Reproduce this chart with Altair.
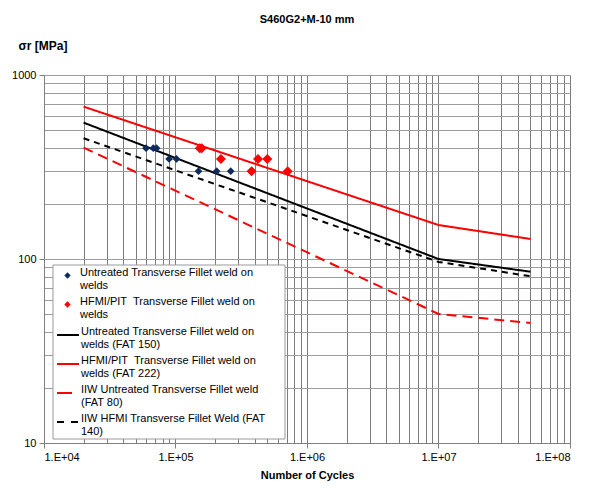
import altair as alt
import pandas as pd

# ---- data ----
untreated_N = [59700, 67800, 71800, 89400, 101800, 149600, 205600, 263000]
untreated_S = [400, 400, 400, 350, 350, 300, 300, 300]
hfmi_N = [152900, 158200, 221600, 379000, 424000, 499000, 713000]
hfmi_S = [400, 400, 350, 300, 350, 350, 300]

curve_N = [20000, 10000000, 50000000]
fat150 = [551, 100, 85.3]
fat222 = [673, 153, 128.5]
fat80 = [403, 50.3, 44.9]
fat140 = [453, 96.4, 80.6]

pt_names = [
    "Untreated Transverse Fillet weld on\nwelds",
    "HFMI/PIT\u00a0 Transverse Fillet weld on\nwelds",
]
ln_names = [
    "Untreated Transverse Fillet weld on\nwelds (FAT 150)",
    "HFMI/PIT\u00a0 Transverse Fillet weld on\nwelds (FAT 222)",
    "IIW Untreated Transverse Fillet weld\n(FAT 80)",
    "IIW HFMI Transverse Fillet Weld (FAT\n140)",
]
pt_colors = ["#0f2a5c", "#ff0000"]
pt_sizes = [60, 100]
ln_colors = ["#000000", "#ff0000", "#ff0000", "#000000"]
ln_dashes = [[1, 0], [1, 0], [10, 6], [6, 5]]
leg_dashes = [[1, 0], [1, 0], [15, 30], [7, 7]]

x_major = [10000, 100000, 1000000, 10000000, 100000000]
y_major = [10, 100, 1000]
x_grid = [m * d for d in x_major[:-1] for m in range(1, 10)] + [100000000]
y_grid = [m * d for d in y_major[:-1] for m in range(1, 10)] + [1000]

FONT = "Liberation Sans"
xmaj = "[" + ",".join(str(v) for v in x_major) + "]"
ymaj = "[" + ",".join(str(v) for v in y_major) + "]"

x_scale = alt.Scale(type="log", domain=[10000, 100000000], nice=False)
y_scale = alt.Scale(type="log", domain=[10, 1000], nice=False)

x_axis = alt.Axis(
    values=x_grid, grid=True, gridColor="#7c7c7c", gridWidth=1,
    labelExpr=f"indexof({xmaj}, datum.value) >= 0 ? '1.E+0' + round(log(datum.value)/LN10) : ''",
    tickOpacity={"condition": {"test": f"indexof({xmaj}, datum.value) >= 0", "value": 1}, "value": 0},
    tickColor="#808080", domainColor="#808080", tickSize=5,
    labelFont=FONT, labelFontSize=11, labelColor="#000", labelPadding=3,
    title="Number of Cycles", titleFont=FONT, titleFontSize=11, titleFontWeight="bold",
    titleColor="#000", titlePadding=7, labelOverlap=False,
)
y_axis = alt.Axis(
    values=y_grid, grid=True, gridColor="#9c9c9c", gridWidth=1,
    labelExpr=f"indexof({ymaj}, datum.value) >= 0 ? format(datum.value, 'd') : ''",
    tickOpacity={"condition": {"test": f"indexof({ymaj}, datum.value) >= 0", "value": 1}, "value": 0},
    tickColor="#808080", domainColor="#808080", tickSize=5,
    labelFont=FONT, labelFontSize=11, labelColor="#000", labelPadding=3,
    title="σr [MPa]", titleFont=FONT, titleFontSize=12, titleFontWeight="bold",
    titleColor="#000", titleAngle=0, titleAlign="left", titleBaseline="middle",
    titleX=-26, titleY=-30, labelOverlap=False,
)

box = alt.Chart(pd.DataFrame({"a": [0]})).mark_rect(
    fill="white", stroke="#9a9a9a", strokeWidth=1
).encode(
    x=alt.value(9), x2=alt.value(241), y=alt.value(190), y2=alt.value(364)
)

leg_common = dict(
    title=None, orient="none", labelFont=FONT, labelFontSize=11, labelColor="#000",
    labelExpr="split(datum.label, '\\n')", labelBaseline="alphabetic", labelLimit=400,
    rowPadding=0, padding=0,
)

lines = pd.DataFrame({
    "N": curve_N * 4,
    "S": [v for c in [fat150, fat222, fat80, fat140] for v in c],
    "series": [n for n in ln_names for _ in curve_N],
})
pts = pd.DataFrame({
    "N": untreated_N + hfmi_N,
    "S": untreated_S + hfmi_S,
    "series": [pt_names[0]] * len(untreated_N) + [pt_names[1]] * len(hfmi_N),
})

layers = [box]
line_legY = [248, 277, 306, 335]
for i, name in enumerate(ln_names):
    layers.append(
        alt.Chart(lines).transform_filter(alt.datum.series == name)
        .mark_line(strokeWidth=2, strokeDash=ln_dashes[i])
        .encode(
            x=alt.X("N:Q", scale=x_scale, axis=x_axis),
            y=alt.Y("S:Q", scale=y_scale, axis=y_axis),
            color=alt.Color("series:N", scale=alt.Scale(domain=[name], range=[ln_colors[i]]),
                            legend=alt.Legend(legendX=12, legendY=line_legY[i], symbolType="stroke",
                                              symbolSize=484, symbolStrokeWidth=2,
                                              symbolDash=leg_dashes[i], labelOffset=1, **leg_common)),
        )
    )

pt_legY = [195, 224]
for i, name in enumerate(pt_names):
    layers.append(
        alt.Chart(pts).transform_filter(alt.datum.series == name)
        .mark_point(shape="diamond", filled=True, opacity=1, size=pt_sizes[i])
        .encode(
            x=alt.X("N:Q", scale=x_scale, axis=x_axis),
            y=alt.Y("S:Q", scale=y_scale, axis=y_axis),
            color=alt.Color("series:N", scale=alt.Scale(domain=[name], range=[pt_colors[i]]),
                            legend=alt.Legend(legendX=18, legendY=pt_legY[i], symbolType="diamond",
                                              symbolSize=40, labelOffset=7, **leg_common)),
        )
    )

chart = alt.layer(*layers).resolve_scale(color="independent").resolve_legend(
    color="independent"
).properties(
    width=526, height=368,
    title=alt.TitleParams("S460G2+M-10 mm", font=FONT, fontSize=11, fontWeight="bold",
                          color="#000", anchor="middle", offset=14),
    autosize=alt.AutoSizeParams(type="none"),
    padding={"left": 36, "top": 67, "right": 12, "bottom": 40},
).configure_view(strokeOpacity=0).configure(font=FONT)

chart.save("out.html", embed_options={"renderer": "svg", "actions": False})
